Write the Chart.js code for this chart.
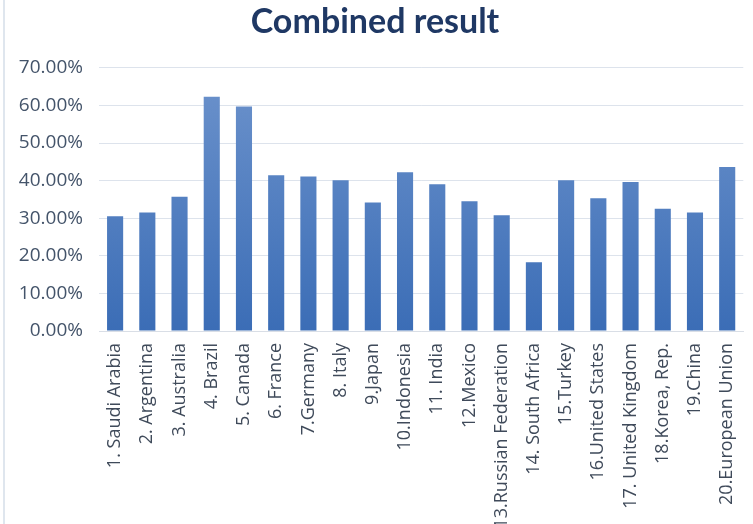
<!DOCTYPE html>
<html>
<head>
<meta charset="utf-8">
<script src="https://cdn.jsdelivr.net/npm/chart.js@4.4.1/dist/chart.umd.min.js"></script>
<style>
  html, body { margin: 0; padding: 0; background: #fff; }
  #wrap { position: relative; height: 524px; box-sizing: border-box; border-left: 2px solid #dfe6ee; margin-left: 3px; width: 750px; }
</style>
</head>
<body>
<div id="wrap"><canvas id="grafico" width="748" height="524"></canvas></div>
<script>
const paises = [
  "1. Saudi Arabia", "2. Argentina", "3. Australia", "4. Brazil", "5. Canada",
  "6. France", "7.Germany", "8. Italy", "9.Japan", "10.Indonesia",
  "11. India", "12.Mexico", "13.Russian Federation", "14. South Africa", "15.Turkey",
  "16.United States", "17. United Kingdom", "18.Korea, Rep.", "19.China", "20.European Union"
];
const resultados = [
  30.5, 31.5, 35.7, 62.3, 59.7,
  41.4, 41.1, 40.1, 34.2, 42.2,
  39.0, 34.5, 30.8, 18.3, 40.1,
  35.3, 39.6, 32.5, 31.5, 43.6
];
const ticksY = [0, 10, 20, 30, 40, 50, 60, 70];

const ctx = document.getElementById("grafico");

function gradienteBarra(context) {
  const area = context.chart.chartArea;
  if (!area) return "#4a79bf";
  const g = context.chart.ctx.createLinearGradient(0, area.top, 0, area.bottom);
  g.addColorStop(0, "#6d93cc");
  g.addColorStop(1, "#3b6db6");
  return g;
}

new Chart(ctx, {
  type: "bar",
  data: {
    labels: paises,
    datasets: [
      {
        label: "Combined result",
        data: resultados,
        backgroundColor: gradienteBarra,
        borderWidth: 0,
        categoryPercentage: 1.0,
        barPercentage: 0.5,
      },
    ],
  },
  options: {
    responsive: false,
    animation: false,
    layout: { padding: { left: 0, right: 8, top: 0, bottom: 0 } },
    plugins: {
      legend: { display: false },
      tooltip: { enabled: false },
      title: {
        display: true,
        text: "Combined result",
        color: "#1f3864",
        font: { family: "Lato", size: 34, weight: "bold" },
        padding: { top: 2, bottom: 25 },
      },
    },
    scales: {
      x: {
        grid: { display: false },
        border: { color: "#d9dee6", width: 1 },
        ticks: {
          color: "#3f4a5a",
          font: { family: "Open Sans", size: 18 },
          minRotation: 90,
          maxRotation: 90,
          autoSkip: false,
          padding: 4,
        },
        afterFit: (scale) => { scale.height = 193; },
      },
      y: {
        min: 0,
        max: 70,
        afterBuildTicks: (scale) => {
          scale.ticks = ticksY.map((v) => ({ value: v }));
        },
        grid: { color: "#dde3ec", lineWidth: 1, drawTicks: false },
        border: { display: false },
        ticks: {
          color: "#44546a",
          font: { family: "Open Sans", size: 19 },
          padding: 16,
          callback: (v) => v.toFixed(2) + "%",
        },
        afterFit: (scale) => { scale.width = 94; },
      },
    },
  },
});
</script>
</body>
</html>
